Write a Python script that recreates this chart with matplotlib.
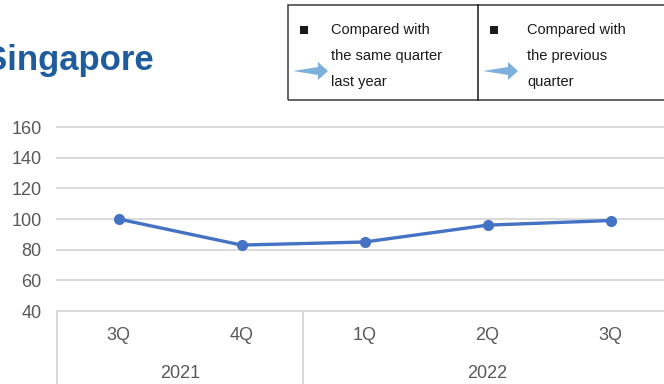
import matplotlib
matplotlib.use("Agg")
import matplotlib.pyplot as plt
from matplotlib.patches import Polygon, Rectangle
from matplotlib.lines import Line2D

plt.rcParams['font.family'] = ['Liberation Sans', 'DejaVu Sans']

# Index values by quarter
quarters = ["3Q", "4Q", "1Q", "2Q", "3Q"]
years = ["2021", "2022"]
year_spans = [(0, 1), (2, 4)]  # first and last quarter index of each year
values = [100, 83, 85, 96, 99]
y_ticks = [40, 60, 80, 100, 120, 140, 160]

legend_lines = [["Compared with", "the same quarter", "last year"],
                ["Compared with", "the previous", "quarter"]]

W, H = 664, 384
fig = plt.figure(figsize=(W / 100, H / 100), dpi=100)

def fx(px):
    return px / W

def fy(py):
    return 1 - py / H

# Plot area (extends slightly past the right edge)
ax_left, ax_right, ax_top, ax_bot = 57, 672, 127, 311
ax = fig.add_axes([fx(ax_left), fy(ax_bot), fx(ax_right - ax_left), (ax_bot - ax_top) / H])

line_color = "#4472C4"
grid_color = "#D9D9D9"
text_gray = "#595959"

x = list(range(len(values)))
ax.plot(x, values, color=line_color, lw=2.4, marker="o", ms=7, zorder=3,
        solid_capstyle="round")

ax.set_xlim(-0.5, len(values) - 0.5)
ax.set_ylim(y_ticks[0], y_ticks[-1])
ax.set_yticks(y_ticks)
ax.set_yticklabels([str(v) for v in y_ticks], fontsize=13, color=text_gray)
ax.tick_params(axis="y", length=0, pad=11)
for v in y_ticks:
    ax.axhline(v, color=grid_color, lw=1.4, zorder=1, clip_on=False)
for s in ax.spines.values():
    s.set_visible(False)

# Two-level category axis
ax.set_xticks([])
axis_depth = (H - ax_bot) / (ax_bot - ax_top)
for i, q in enumerate(quarters):
    ax.annotate(q, xy=(i, 0), xycoords=("data", "axes fraction"),
                xytext=(0, -(335 - ax_bot)), textcoords="offset pixels",
                ha="center", va="center", fontsize=13, color=text_gray)
for yr, (a, b) in zip(years, year_spans):
    ax.annotate(yr, xy=((a + b) / 2, 0), xycoords=("data", "axes fraction"),
                xytext=(0, -(373 - ax_bot)), textcoords="offset pixels",
                ha="center", va="center", fontsize=13, color=text_gray)
seps = [-0.5] + [b + 0.5 for _, b in year_spans]
for s in seps:
    ax.plot([s, s], [0, -axis_depth], color=grid_color, lw=1.4,
            transform=ax.get_xaxis_transform(), clip_on=False, zorder=1)

# Title
fig.text(fx(-16), fy(70), "Singapore", fontsize=25, fontweight="bold",
         color="#1F5C9E", ha="left", va="baseline")

# Legend box
box_l, box_r, box_t, box_b = 288, 668, 5, 100
divider = 478
fig.add_artist(Rectangle((fx(box_l), fy(box_b)), fx(box_r - box_l), (box_b - box_t) / H,
                         transform=fig.transFigure, fill=False, ec="#3A3A3A", lw=1.1))
fig.add_artist(Line2D([fx(divider), fx(divider)], [fy(box_t), fy(box_b)],
                      transform=fig.transFigure, color="#1A1A1A", lw=1.1))

cols = [(288, 304, 331), (478, 494, 527)]
for (x0, sq_x, tx), lines in zip(cols, legend_lines):
    fig.add_artist(Rectangle((fx(sq_x - 4), fy(34)), fx(8), 8 / H,
                             transform=fig.transFigure, fc="#1A1A1A", ec="none"))
    for j, t in enumerate(lines):
        fig.text(fx(tx), fy(30 + j * 26), t, fontsize=10.5, color="#1A1A1A",
                 ha="left", va="center")
    ax0 = x0 + 5
    cy = 71
    pts = [(ax0, cy), (ax0 + 25, cy - 4), (ax0 + 25, cy - 9), (ax0 + 35, cy),
           (ax0 + 25, cy + 9), (ax0 + 25, cy + 4)]
    fig.add_artist(Polygon([(fx(px), fy(py)) for px, py in pts], closed=True,
                           transform=fig.transFigure, fc="#7EB0DC", ec="none"))

fig.savefig("out.png", dpi=100)
